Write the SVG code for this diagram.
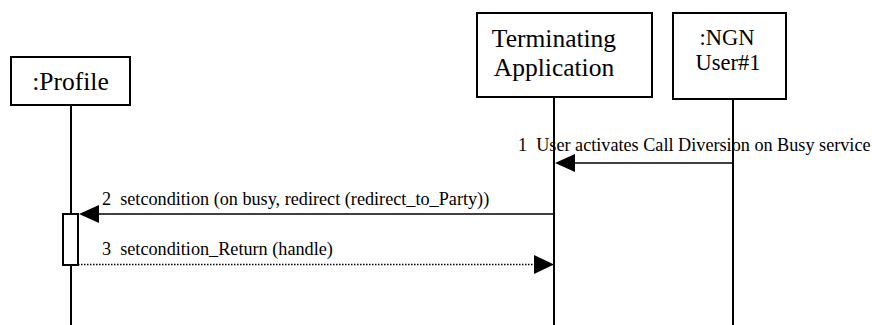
<svg xmlns="http://www.w3.org/2000/svg" width="872" height="325" viewBox="0 0 872 325">
<style>
.box{fill:#fff;stroke:#000;stroke-width:2}
.life{stroke:#000;stroke-width:2;fill:none}
.msg{stroke:#000;stroke-width:1.6;fill:none}
.ret{stroke:#000;stroke-width:1.6;fill:none;stroke-dasharray:1.5 1.5}
.head{fill:#000}
text{font-family:"Times New Roman","Liberation Serif","DejaVu Serif",serif;fill:#000}
.lbl{text-anchor:middle}
.mt{font-size:18.2px}
</style>
<rect width="872" height="325" fill="#fff"/>
<g id="profile">
<line class="life" x1="71" y1="105" x2="71" y2="325"/>
<rect class="box" x="11" y="57" width="119" height="48"/>
<text class="lbl" x="70.5" y="90" font-size="25.5">:Profile</text>
<rect class="box" x="63" y="214" width="15" height="51"/>
</g>
<g id="terminating">
<line class="life" x1="554" y1="97" x2="554" y2="325"/>
<rect class="box" x="477" y="13" width="175" height="84"/>
<text class="lbl" x="554" y="47" font-size="25.5">Terminating</text>
<text class="lbl" x="554" y="76" font-size="25.5">Application</text>
</g>
<g id="ngn">
<line class="life" x1="733" y1="99" x2="733" y2="325"/>
<rect class="box" x="673" y="13" width="113" height="86"/>
<text class="lbl" x="727" y="44.5" font-size="22.5">:NGN</text>
<text class="lbl" x="728" y="70" font-size="22.5">User#1</text>
</g>
<g id="connectors">
<line class="msg" x1="733" y1="163" x2="570" y2="163"/>
<polygon class="head" points="555,163 575,154 575,172"/>
<text class="mt" x="518" y="151" xml:space="preserve">1  User activates Call Diversion on Busy service</text>
<line class="msg" x1="554" y1="214" x2="92" y2="214"/>
<polygon class="head" points="79,214 99,205 99,223"/>
<text class="mt" x="102" y="205" xml:space="preserve">2  setcondition (on busy, redirect (redirect_to_Party))</text>
<line class="ret" x1="78" y1="264.5" x2="538" y2="264.5"/>
<polygon class="head" points="554,264.5 534,255 534,274"/>
<text class="mt" x="102" y="255" xml:space="preserve">3  setcondition_Return (handle)</text>
</g>
</svg>
